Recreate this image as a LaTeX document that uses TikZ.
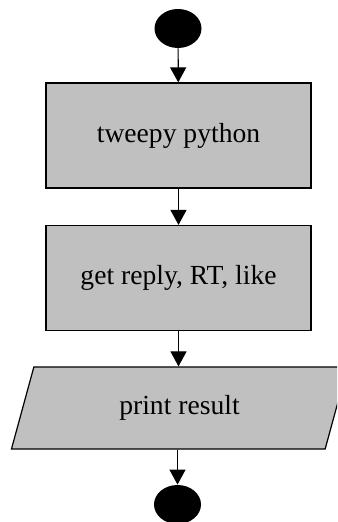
\documentclass[tikz,border=0pt]{standalone}
\usepackage{fontspec}
\setmainfont{Liberation Serif}
\usepackage{tikz}
\usetikzlibrary{arrows.meta}
\usetikzlibrary{shapes.geometric}

\definecolor{boxgray}{RGB}{192,192,192}

\begin{document}
\begin{tikzpicture} [x=0.5pt, y=-0.5pt, font=\fontsize{13.8}{16}\selectfont,
  dot/.style={ellipse, fill=black, inner sep=0pt, minimum width=23.5pt, minimum height=19.5pt},
  stepbox/.style={rectangle, draw=black, fill=boxgray, line width=0.6pt, minimum width=132.5pt, minimum height=52.5pt},
  iobox/.style={trapezium, trapezium left angle=75, trapezium right angle=105, trapezium stretches=true,
    draw=black, fill=boxgray, line width=0.6pt, minimum width=169pt, minimum height=41pt},
  flow/.style={-{Triangle[width=8pt,length=7.5pt]}, black, line width=0.6pt}]

\useasboundingbox (0,0) rectangle (337,522);
\clip (0,0) rectangle (337,522);

\node[dot] (start) at (178,28.5) {};
\node[stepbox] (tweepy) at (178.5,135.5) {tweepy python};
\node[stepbox] (getreply) at (178.5,278) {get reply, RT, like};
\node[iobox] (print) at (179.5,408) {print result};
\node[dot] (stop) at (177.5,504.5) {};

\draw[flow] (start) -- (tweepy);
\draw[flow] (tweepy) -- (getreply);
\draw[flow] (getreply) -- (getreply |- print.north);
\draw[flow] (print.south -| stop) -- (stop);

\end{tikzpicture}
\end{document}
